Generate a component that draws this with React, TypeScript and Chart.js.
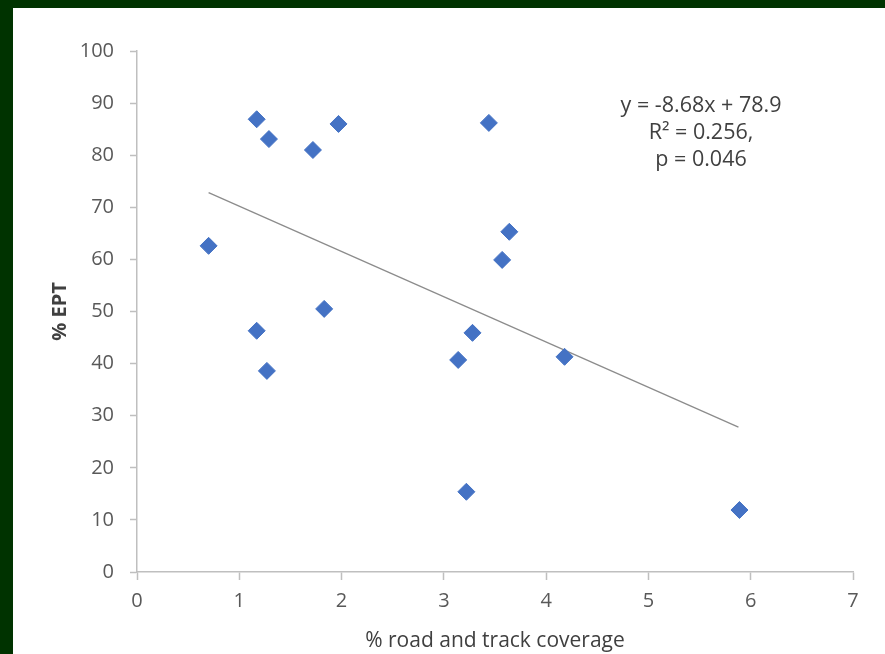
import React, { useEffect, useRef } from "react";
import { Chart, registerables } from "chart.js";

Chart.register(...registerables);

const coverage = [0.7, 1.17, 1.29, 1.17, 1.27, 1.72, 1.97, 1.83, 3.44, 3.64, 3.57, 3.28, 3.14, 3.22, 4.18, 5.89];
const ept = [62.6, 86.9, 83.1, 46.3, 38.6, 81.0, 86.0, 50.5, 86.2, 65.3, 59.9, 45.9, 40.7, 15.4, 41.3, 11.9];
const trendX = [0.7, 5.88];
const trendY = [72.8, 27.8];
const annotationLines = ["y = -8.68x + 78.9", "R\u00B2 = 0.256,", "p = 0.046"];
const xTitle = "% road and track coverage";
const yTitle = "% EPT";

const FONT = "'Open Sans', sans-serif";

export default function App() {
  const ref = useRef<HTMLCanvasElement | null>(null);

  useEffect(() => {
    const canvas = ref.current;
    if (!canvas) return;
    const annotationPlugin = {
      id: "eqnText",
      afterDraw(chart: any) {
        const ctx = chart.ctx;
        ctx.save();
        ctx.font = `21.5px ${FONT}`;
        ctx.fillStyle = "#404040";
        ctx.textAlign = "center";
        ctx.textBaseline = "middle";
        annotationLines.forEach((t, i) => {
          ctx.fillText(t, 688, 98 + i * 27);
        });
        ctx.restore();
      },
    };
    const chart = new Chart(canvas, {
      type: "scatter",
      data: {
        datasets: [
          {
            data: coverage.map((x, i) => ({ x, y: ept[i] })),
            pointStyle: "rectRot",
            pointRadius: 8.5,
            backgroundColor: "#4472C4",
            borderColor: "#4472C4",
            borderWidth: 1,
          },
          {
            data: trendX.map((x, i) => ({ x, y: trendY[i] })),
            showLine: true,
            pointRadius: 0,
            borderColor: "#8c8c8c",
            borderWidth: 1.3,
            fill: false,
          } as any,
        ],
      },
      options: {
        animation: false,
        responsive: false,
        layout: { padding: { top: 43, right: 32, bottom: 0, left: 0 } },
        plugins: { legend: { display: false }, tooltip: { enabled: false } },
        scales: {
          x: {
            type: "linear",
            min: 0,
            max: 7,
            ticks: { stepSize: 1, color: "#595959", font: { family: FONT, size: 20 }, padding: 9 },
            grid: { drawOnChartArea: false, drawTicks: true, tickLength: 8, tickColor: "#bfbfbf", tickWidth: 1.5 },
            border: { color: "#bfbfbf", width: 1.5 },
            title: {
              display: true,
              text: xTitle,
              color: "#404040",
              font: { family: FONT, size: 21 },
              padding: { top: 3, bottom: 0 },
            },
            afterFit: (s: any) => {
              s.height = 82;
            },
          },
          y: {
            type: "linear",
            min: 0,
            max: 100,
            ticks: { stepSize: 10, color: "#595959", font: { family: FONT, size: 20 }, padding: 16 },
            grid: { drawOnChartArea: false, drawTicks: true, tickLength: 7, tickColor: "#bfbfbf", tickWidth: 1.5 },
            border: { color: "#bfbfbf", width: 1.5 },
            title: {
              display: true,
              text: yTitle,
              color: "#404040",
              font: { family: FONT, size: 20, weight: "bold" },
              padding: { top: 35, bottom: 0 },
            },
            afterFit: (s: any) => {
              s.width = 124;
            },
          },
        },
      },
      plugins: [annotationPlugin],
    });
    return () => chart.destroy();
  }, []);

  return (
    <div style={{ position: "fixed", left: 0, top: 0, width: 885, height: 654, background: "#003300" }}>
      <div style={{ position: "absolute", left: 13, top: 8, width: 872, height: 646, background: "#ffffff" }}>
        <canvas ref={ref} width={872} height={646} style={{ display: "block" }} />
      </div>
    </div>
  );
}
